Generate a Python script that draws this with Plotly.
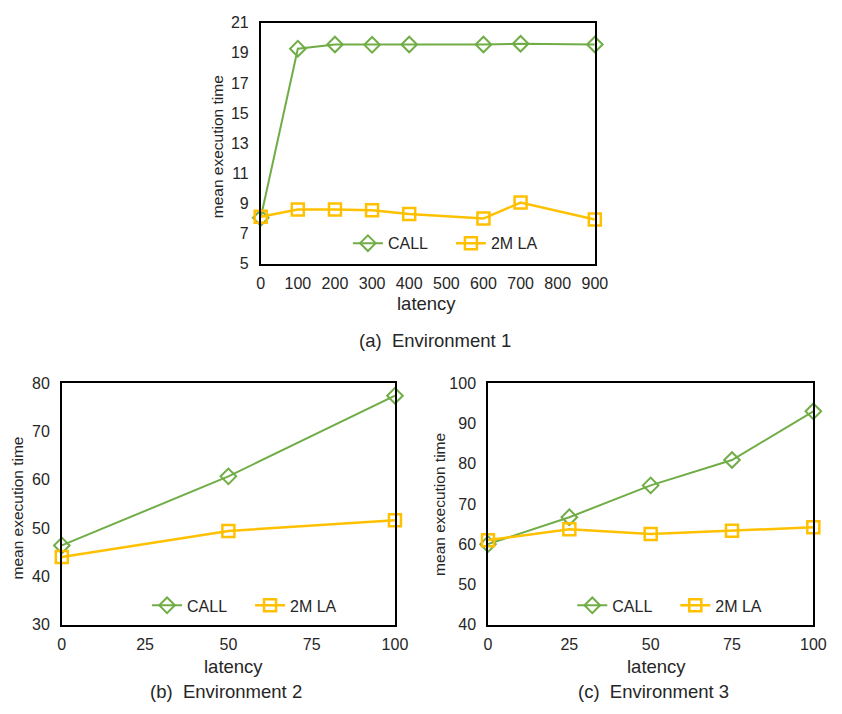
import plotly.graph_objects as go

# Environment 1
env1_latency = [0, 100, 200, 300, 400, 600, 700, 900]
env1_call = [8.05, 19.27, 19.55, 19.53, 19.55, 19.55, 19.6, 19.55]
env1_la = [8.12, 8.6, 8.6, 8.55, 8.31, 8.0, 9.06, 7.93]

# Environment 2
env2_latency = [0, 50, 100]
env2_call = [46.4, 60.7, 77.4]
env2_la = [44.0, 49.4, 51.6]

# Environment 3
env3_latency = [0, 25, 50, 75, 100]
env3_call = [60.0, 66.7, 74.6, 80.9, 93.0]
env3_la = [61.0, 63.7, 62.5, 63.3, 64.2]

captions = ["(a)  Environment 1", "(b)  Environment 2", "(c)  Environment 3"]

GREEN = "#70AD47"
YELLOW = "#FFC000"
TXT = "#262626"
FONT = "Liberation Sans, Arial, sans-serif"

fig = go.Figure()

panels = [
    (env1_latency, env1_call, env1_la, "x", "y", "legend"),
    (env2_latency, env2_call, env2_la, "x2", "y2", "legend2"),
    (env3_latency, env3_call, env3_la, "x3", "y3", "legend3"),
]
for xs, c, l, xa, ya, lg in panels:
    fig.add_trace(go.Scatter(x=xs, y=c, name="CALL", mode="lines+markers",
                             line=dict(color=GREEN, width=2),
                             marker=dict(symbol="diamond-open", size=12, color=GREEN,
                                         line=dict(width=2, color=GREEN)),
                             xaxis=xa, yaxis=ya, legend=lg, cliponaxis=False))
    fig.add_trace(go.Scatter(x=xs, y=l, name="2M LA", mode="lines+markers",
                             line=dict(color=YELLOW, width=2.5),
                             marker=dict(symbol="square-open", size=12, color=YELLOW,
                                         line=dict(width=2.5, color=YELLOW)),
                             xaxis=xa, yaxis=ya, legend=lg, cliponaxis=False))

W, H = 842, 714
def px(x):
    return x / W
def py(y):
    return 1 - y / H

axcommon = dict(showline=True, linecolor="black", linewidth=1.5, mirror=True,
                showgrid=False, zeroline=False, ticks="",
                tickfont=dict(size=16, color=TXT, family=FONT))
xc = dict(ticklabelstandoff=4, **axcommon)
yc = dict(ticklabelstandoff=7, **axcommon)

fig.update_layout(
    width=W, height=H, margin=dict(l=0, r=0, t=0, b=0),
    paper_bgcolor="white", plot_bgcolor="white",
    font=dict(family=FONT, color=TXT),
    xaxis=dict(domain=[px(262), px(603)], range=[0, 900], tickvals=list(range(0, 901, 100)),
               anchor="y", **xc),
    yaxis=dict(domain=[py(262), py(15)], range=[5, 21], tickvals=list(range(5, 22, 2)),
               anchor="x", **yc),
    xaxis2=dict(domain=[px(59), px(399)], range=[0, 100], tickvals=[0, 25, 50, 75, 100],
                anchor="y2", **xc),
    yaxis2=dict(domain=[py(631.7), py(384.3)], range=[30, 80], tickvals=list(range(30, 81, 10)),
                anchor="x2", **yc),
    xaxis3=dict(domain=[px(494), px(826)], range=[0, 100], tickvals=[0, 25, 50, 75, 100],
                anchor="y3", **xc),
    yaxis3=dict(domain=[py(631.7), py(384.3)], range=[40, 100], tickvals=list(range(40, 101, 10)),
                anchor="x3", **yc),
)

legcommon = dict(orientation="h", xanchor="left", yanchor="middle",
                 bgcolor="rgba(0,0,0,0)", font=dict(size=16, color=TXT, family=FONT),
                 entrywidth=58, itemwidth=30)
fig.update_layout(
    legend=dict(x=px(351), y=py(241), **legcommon),
    legend2=dict(x=px(146), y=py(612), **legcommon),
    legend3=dict(x=px(580), y=py(612), **legcommon),
)

ann = []
def text(x, y, s, size, angle=0):
    ann.append(dict(x=px(x), y=py(y), xref="paper", yref="paper", text=s, showarrow=False,
                    textangle=angle, xanchor="center", yanchor="middle",
                    font=dict(size=size, color=TXT, family=FONT)))

text(431, 303, "latency", 18.5)
text(218, 142, "mean execution time", 15.5, -90)
text(440, 341, captions[0], 18.5)
text(234, 675, "latency", 18.5)
text(14, 512, "mean execution time", 15.5, -90)
text(227, 700, captions[1], 18.5)
text(666, 675, "latency", 18.5)
text(445, 509, "mean execution time", 15.5, -90)
text(663, 700, captions[2], 18.5)
fig.update_layout(annotations=ann)

fig.write_html("out.html")
